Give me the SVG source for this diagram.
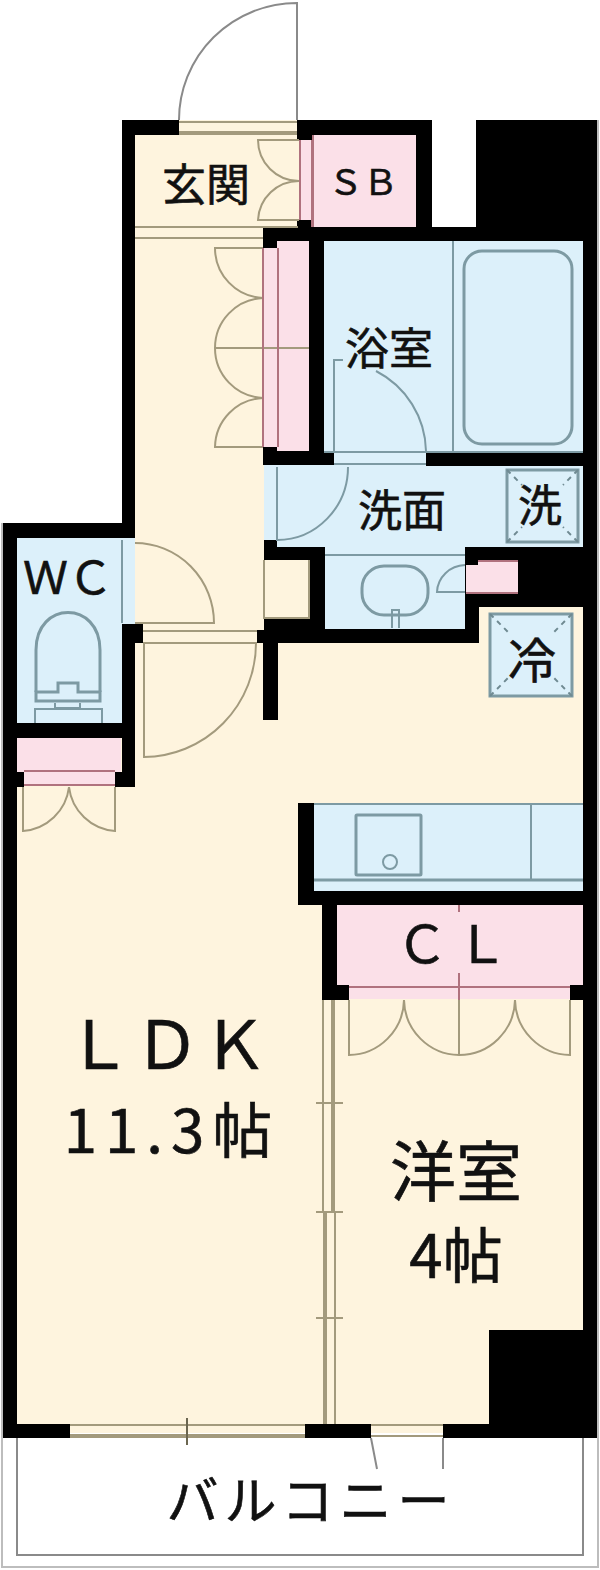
<svg xmlns="http://www.w3.org/2000/svg" width="600" height="1570" viewBox="0 0 600 1570">
<style>
.k{fill:#000}.c{fill:#fef4de}.p{fill:#fbe0e8}.b{fill:#dcf0fa}
.t{fill:none;stroke:#a39a7d;stroke-width:2}.tt{fill:none;stroke:#a39a7d;stroke-width:4}
.u{fill:none;stroke:#7d9aa3;stroke-width:2}.uu{fill:none;stroke:#7d9aa3;stroke-width:3}
.g{fill:none;stroke:#8a8a8a;stroke-width:2}
.r{fill:none;stroke:#b0727e;stroke-width:2}
.d{fill:none;stroke:#6f8a92;stroke-width:2;stroke-dasharray:5 5}
text{fill:#111;stroke:#111;stroke-width:.6;font-family:"Noto Sans CJK JP","Liberation Sans",sans-serif;text-anchor:middle}
</style>
<rect width="600" height="1570" fill="#fff"/>
<g id="balcony">
<path d="M2 523V1567H598V120" fill="none" stroke="#bdbdbd" stroke-width="2"/>
<path d="M17 1438V1555H583V1438" class="g"/>
<path d="M371 1438L377 1469M443 1438V1469" class="g"/>
<text x="311" y="1520" font-size="52" letter-spacing="6">バルコニー</text>
</g>
<g id="floors">
<rect class="c" x="135" y="120" width="165" height="525"/>
<rect class="c" x="264" y="555" width="50" height="70"/>
<rect class="c" x="17" y="643" width="566" height="790"/>
<rect class="c" x="479" y="607" width="104" height="40"/>
<rect class="p" x="300" y="135" width="116" height="92"/>
<rect class="p" x="263" y="241" width="46" height="210"/>
<rect class="b" x="309" y="241" width="274" height="222"/>
<rect class="b" x="264" y="463" width="319" height="84"/>
<rect class="b" x="325" y="547" width="140" height="82"/>
<rect class="b" x="17" y="538" width="118" height="186"/>
<rect class="p" x="17" y="738" width="104" height="34"/>
<rect class="p" x="24" y="772" width="91" height="12"/>
<rect class="b" x="314" y="803" width="269" height="90"/>
<rect class="p" x="337" y="905" width="246" height="80"/>
<rect class="p" x="349" y="985" width="221" height="14"/>
</g>
<g id="walls">
<path class="k" d="M122 120H179V135H135V523H122ZM297 120H432V227H416V135H313V140H297ZM297 220H313V227H297ZM476 120H597V1438H443V1424H489V1330H583V607H479V643H278V720H263V643H257V630H264V618H310V560H264V540H277V547H325V629H465V547H583V241H324V451H334V465H263V447H277V451H309V241H277V248H263V227H476Z"/>
<rect class="k" x="309" y="241" width="15" height="224"/>
<rect class="k" x="426" y="451" width="171" height="15"/>
<rect class="k" x="3" y="523" width="132" height="15"/>
<rect class="k" x="3" y="523" width="14" height="915"/>
<rect class="k" x="122" y="624" width="21" height="19"/>
<rect class="k" x="122" y="643" width="13" height="144"/>
<rect class="k" x="17" y="723" width="118" height="15"/>
<rect class="k" x="17" y="772" width="7" height="15"/>
<rect class="k" x="115" y="772" width="20" height="15"/>
<rect class="k" x="298" y="803" width="16" height="102"/>
<rect class="k" x="298" y="891" width="285" height="14"/>
<rect class="k" x="322" y="905" width="15" height="95"/>
<rect class="k" x="322" y="985" width="27" height="15"/>
<rect class="k" x="570" y="985" width="13" height="15"/>
<rect class="k" x="3" y="1424" width="67" height="14"/>
<rect class="k" x="305" y="1424" width="66" height="14"/>
<rect class="p" x="466" y="565" width="12" height="28"/>
<rect class="p" x="478" y="561" width="40" height="32"/>
<path class="r" d="M466 593H518M478 561H518"/>
</g>
<g id="entrance">
<path class="g" d="M297 120V3A118 117 0 0 0 179 120"/>
<path class="t" d="M179 122H297"/><path class="tt" d="M179 133H297"/>
<path class="t" d="M135 227H298M135 238H263"/>
<path class="t" d="M299 140H258A41 41 0 0 0 299 181A41 41 0 0 0 258 220H299"/>
<path class="r" d="M300 140V220M312 140V227M313 135V227"/>
</g>
<g id="corridor-closet">
<path class="t" d="M263 248H215A50 50 0 0 0 263 298A50 50 0 0 0 215 348A50 50 0 0 0 263 398A50 50 0 0 0 215 447H263"/>
<path class="t" d="M215 348H309"/>
<path class="r" d="M263 248V447M278 248V447"/>
</g>
<g id="bath">
<rect x="334" y="452" width="92" height="13" fill="#dcf0fa"/>
<path class="u" d="M453 241V451M324 452H583"/>
<rect class="uu" x="464" y="251" width="108" height="193" rx="18"/>
<path class="u" d="M343 360H334V451M376 371A92 92 0 0 1 426 451M334 464H426"/>
</g>
<g id="wash">
<path class="u" d="M277 467V540A71 73 0 0 0 348 467"/>
<path class="u" d="M325 555H465"/>
<rect class="uu" x="507" y="470" width="71" height="72"/>
<path class="d" d="M507 470L522 485M578 470L563 485M507 542L522 527M578 542L563 527"/>
<rect class="uu" x="362" y="566" width="66" height="49" rx="22"/>
<path class="u" d="M392 628V610H399V628"/>
<path class="u" d="M465 592H437A29 28 0 0 1 465 565"/>
</g>
<g id="nook"><path class="t" d="M264 560V618H309V560"/></g>
<g id="wc">
<path class="t" d="M135 623H214A79 80 0 0 0 135 543"/>
<path class="u" d="M122 540V623"/>
<path class="uu" d="M36 692V650C36 600 100 600 100 650V692"/>
<path class="uu" d="M36 692H58V683H78V692H100V701H36Z"/>
<path class="u" d="M55 703V708H80V703M35 723V709H102V723"/>
<path class="r" d="M24 771H115M24 785H115"/>
</g>
<g id="ldk-doors">
<path class="t" d="M143 631H257M143 643H257"/>
<path class="t" d="M144 643V757A113 114 0 0 0 256 643"/>
<path class="t" d="M23 787V831A50 50 0 0 0 69 787A50 50 0 0 0 115 831V787"/>
<rect class="b" x="490" y="614" width="82" height="82"/>
<rect class="uu" x="490" y="614" width="82" height="82"/>
<path class="d" d="M490 614L510 634M572 614L552 634M490 696L510 676M572 696L552 676"/>
</g>
<g id="kitchen">
<path class="u" d="M314 804H583M531 804V880"/>
<path class="uu" d="M314 880H583"/>
<rect class="uu" x="356" y="815" width="65" height="60" rx="1"/>
<circle class="u" cx="390" cy="862" r="7"/>
</g>
<g id="closet">
<path class="r" d="M349 987H570M459 905V912M459 973V1000"/>
<path class="t" d="M349 1000V1055A56 56 0 0 0 404 1000A56 56 0 0 0 459 1055A56 56 0 0 0 515 1000A56 56 0 0 0 570 1055V1000M459 1000V1055"/>
</g>
<g id="partition">
<path class="t" d="M323 1000V1212M335 1212V1424"/>
<path class="tt" d="M333 1000V1212M325 1212V1424"/>
<path class="t" d="M316 1103H343M316 1212H343M316 1318H343"/>
</g>
<g id="window">
<path class="t" d="M70 1425H305M371 1425H443M371 1436H443"/><path class="tt" d="M70 1436H305"/>
<path d="M187 1418V1445" stroke="#6b6650" stroke-width="2"/>
</g>
<g id="labels">
<text x="206" y="201" font-size="44">玄関</text>
<text x="363" y="195" font-size="35">ＳＢ</text>
<text x="389" y="365" font-size="44">浴室</text>
<text x="402" y="527" font-size="44">洗面</text>
<text x="540" y="522" font-size="44">洗</text>
<text x="532" y="678" font-size="48">冷</text>
<text x="68" y="594" font-size="45">ＷＣ</text>
<text x="456" y="963" font-size="52" letter-spacing="8">ＣＬ</text>
<text x="168" y="1069" font-size="66" letter-spacing="2">ＬＤＫ</text>
<text x="172" y="1153" font-size="60" letter-spacing="8">11.3帖</text>
<text x="456" y="1196" font-size="66">洋室</text>
<text x="456" y="1278" font-size="60">4帖</text>
</g>
</svg>
